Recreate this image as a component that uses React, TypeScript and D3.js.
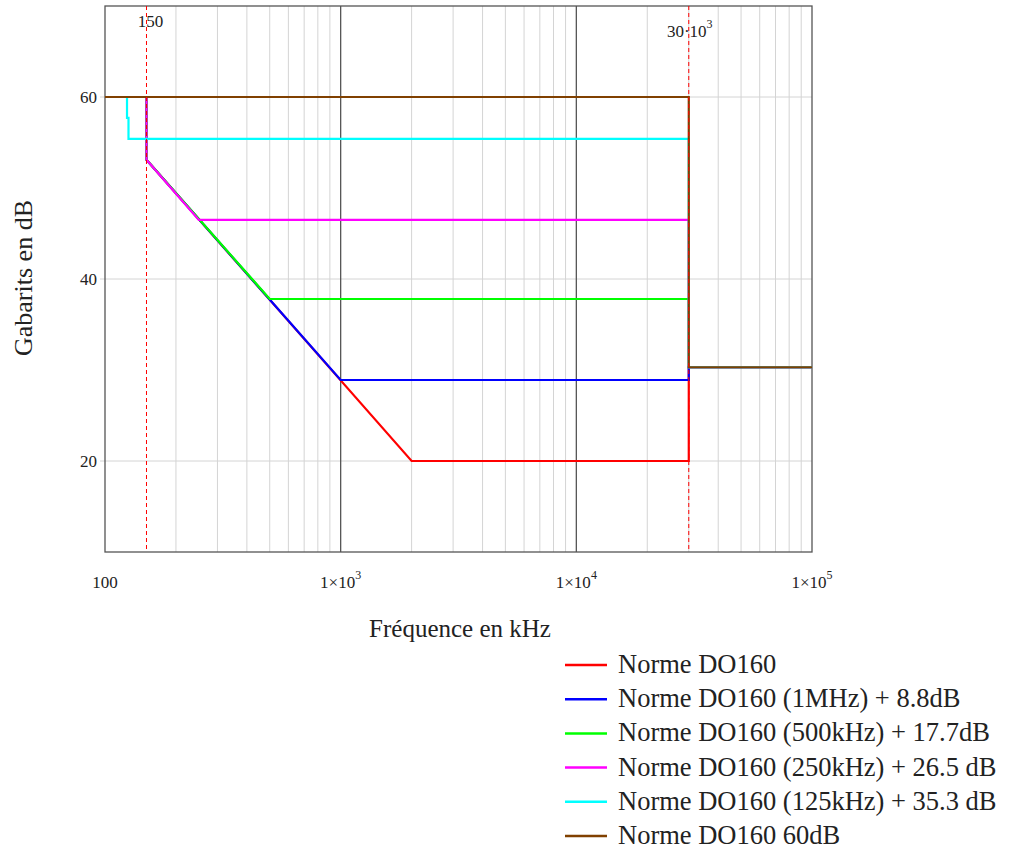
import React from "react";
import * as d3 from "d3";

// frequencies in kHz, levels in dB
const redPts: [number, number][] = [[150, 60], [150, 53.1], [2000, 20], [30000, 20], [30000, 30.3], [100000, 30.3]];
const bluePts: [number, number][] = [[150, 60], [150, 53.1], [1000, 28.9], [30000, 28.9], [30000, 30.3], [100000, 30.3]];
const greenPts: [number, number][] = [[150, 60], [150, 53.1], [500, 37.8], [30000, 37.8], [30000, 30.3], [100000, 30.3]];
const magentaPts: [number, number][] = [[150, 60], [150, 53.1], [250, 46.5], [30000, 46.5], [30000, 30.3], [100000, 30.3]];
const cyanPts: [number, number][] = [[100, 60], [124, 60], [124, 57.7], [125.8, 57.7], [125.8, 55.4], [30000, 55.4], [30000, 30.3], [100000, 30.3]];
const brownPts: [number, number][] = [[100, 60], [30000, 60], [30000, 30.3], [100000, 30.3]];

const seriesNames = [
  "Norme DO160",
  "Norme DO160 (1MHz) + 8.8dB",
  "Norme DO160 (500kHz) + 17.7dB",
  "Norme DO160 (250kHz) + 26.5 dB",
  "Norme DO160 (125kHz) + 35.3 dB",
  "Norme DO160 60dB",
];
const seriesColors = ["#ff0000", "#0000ff", "#00ff00", "#ff00ff", "#00ffff", "#804000"];
const seriesData = [redPts, bluePts, greenPts, magentaPts, cyanPts, brownPts];

const yTicks = [20, 40, 60];
const xDecades = [100, 1000, 10000, 100000];
const markers = [150, 30000];

const margin = { left: 105, right: 812, top: 6, bottom: 552 };
const serif = "'Liberation Serif', 'Times New Roman', serif";

export default function App() {
  const x = d3.scaleLog().domain([100, 100000]).range([margin.left, margin.right]);
  const y = d3.scaleLinear().domain([10, 70]).range([margin.bottom, margin.top]);

  const line = d3.line<[number, number]>()
    .x((d) => x(d[0]))
    .y((d) => y(d[1]));

  // minor log grid
  const minor: number[] = [];
  for (let dec = 100; dec < 100000; dec *= 10) {
    for (let k = 2; k <= 9; k++) minor.push(dec * k);
  }

  const txt = { fontFamily: serif, fill: "#222" } as React.CSSProperties;

  return (
    <svg width={1013} height={851} style={{ position: "absolute", left: 0, top: 0, background: "#fff" }}>
      {minor.map((f) => (
        <line key={"m" + f} x1={x(f)} x2={x(f)} y1={margin.top} y2={margin.bottom} stroke="#d4d4d4" strokeWidth={1} />
      ))}
      {yTicks.map((t) => (
        <line key={"h" + t} x1={margin.left - 5} x2={margin.right} y1={y(t)} y2={y(t)} stroke="#d4d4d4" strokeWidth={1} />
      ))}
      {xDecades.slice(1, 3).map((f) => (
        <line key={"d" + f} x1={x(f)} x2={x(f)} y1={margin.top} y2={margin.bottom} stroke="#555" strokeWidth={1.3} />
      ))}
      <rect x={margin.left} y={margin.top} width={margin.right - margin.left} height={margin.bottom - margin.top}
        fill="none" stroke="#555" strokeWidth={1.3} />

      {seriesData.map((pts, i) => (
        <path key={"s" + i} d={line(pts) || ""} fill="none" stroke={seriesColors[i]} strokeWidth={2.2} />
      ))}

      {markers.map((f) => (
        <line key={"mk" + f} x1={x(f)} x2={x(f)} y1={margin.top} y2={margin.bottom} stroke="#ff0000"
          strokeWidth={1} strokeDasharray="4,3" />
      ))}
      <text x={x(150) + 4} y={27} style={txt} fontSize={17} textAnchor="middle">150</text>
      <text x={x(30000) + 1} y={37} style={txt} fontSize={17} textAnchor="middle">
        30·10<tspan dy={-9} fontSize={12}>3</tspan>
      </text>

      {yTicks.map((t) => (
        <text key={"yl" + t} x={margin.left - 8} y={y(t) + 6} style={txt} fontSize={17} textAnchor="end">{t}</text>
      ))}
      {xDecades.map((f, i) => (
        <text key={"xl" + f} x={x(f)} y={588} style={txt} fontSize={17} textAnchor="middle">
          {i === 0 ? "100" : (
            <>
              1×10<tspan dy={-9} fontSize={12}>{i + 2}</tspan>
            </>
          )}
        </text>
      ))}

      <text x={460} y={637} style={txt} fontSize={25} textAnchor="middle">Fréquence en kHz</text>
      <text transform={`translate(32, 278) rotate(-90)`} style={txt} fontSize={26} textAnchor="middle">Gabarits en dB</text>

      {seriesNames.map((name, i) => (
        <g key={"lg" + i} transform={`translate(565, ${665 + i * 34.2})`}>
          <line x1={0} x2={42} y1={0} y2={0} stroke={seriesColors[i]} strokeWidth={2.5} />
          <text x={53} y={8} style={txt} fontSize={26.5}>{name}</text>
        </g>
      ))}
    </svg>
  );
}
